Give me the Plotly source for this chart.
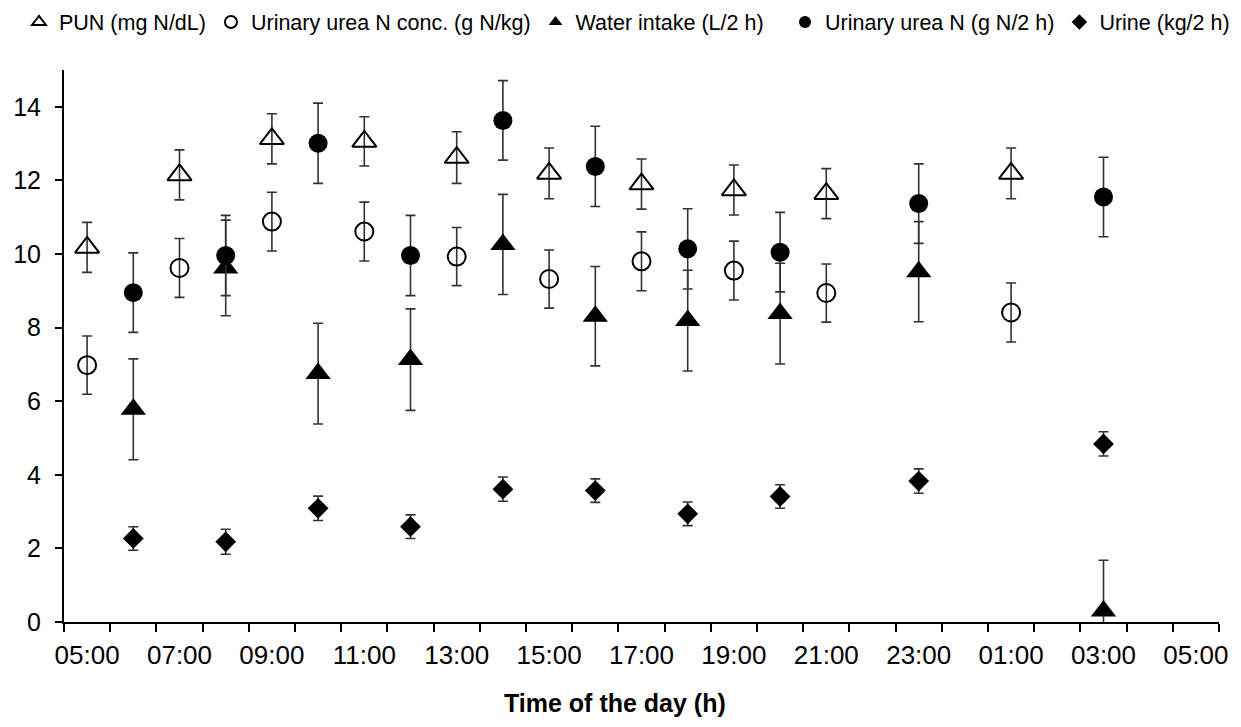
import plotly.graph_objects as go

# ---- data ----
time_labels = ["05:00", "07:00", "09:00", "11:00", "13:00", "15:00", "17:00",
               "19:00", "21:00", "23:00", "01:00", "03:00", "05:00"]
label_hours = [5, 7, 9, 11, 13, 15, 17, 19, 21, 23, 25, 27, 29]

hours_blood = [5, 7, 9, 11, 13, 15, 17, 19, 21, 25]
hours_urine = [6, 8, 10, 12, 14, 16, 18, 20, 23, 27]

pun = [10.18, 12.15, 13.13, 13.06, 12.62, 12.19, 11.90, 11.74, 11.64, 12.19]
pun_se = [0.68, 0.68, 0.68, 0.67, 0.70, 0.69, 0.68, 0.68, 0.68, 0.69]

urea_conc = [6.98, 9.62, 10.88, 10.61, 9.93, 9.32, 9.80, 9.55, 8.94, 8.41]
urea_conc_se = [0.79, 0.80, 0.80, 0.80, 0.79, 0.79, 0.80, 0.80, 0.79, 0.80]

water = [5.78, 9.62, 6.75, 7.13, 10.26, 8.31, 8.19, 8.38, 9.52, 0.30]
water_se = [1.37, 1.30, 1.37, 1.38, 1.36, 1.35, 1.37, 1.37, 1.36, 1.38]

urea_n = [8.95, 9.96, 13.01, 9.96, 13.63, 12.38, 10.14, 10.05, 11.37, 11.55]
urea_n_se = [1.08, 1.09, 1.09, 1.09, 1.08, 1.09, 1.09, 1.08, 1.08, 1.08]

urine = [2.27, 2.18, 3.09, 2.59, 3.61, 3.57, 2.94, 3.41, 3.83, 4.84]
urine_se = [0.32, 0.34, 0.33, 0.32, 0.33, 0.32, 0.32, 0.32, 0.33, 0.33]

FONT = "Liberation Sans, Arial, sans-serif"
ERR = dict(type="data", color="#333333", thickness=1.6, width=5)

fig = go.Figure()

def add(name, x, y, se, symbol, size, lw=0, legend="legend"):
    fig.add_trace(go.Scatter(
        x=x, y=y, mode="markers", name=name, legend=legend,
        marker=dict(symbol=symbol, size=size, color="black",
                    line=dict(color="black", width=lw)),
        error_y=dict(array=se, **ERR),
    ))

add("PUN (mg N/dL)", hours_blood, pun, pun_se, "triangle-up-open", 21, 2)
add("Urinary urea N conc. (g N/kg)", hours_blood, urea_conc, urea_conc_se, "circle-open", 18, 2)
add("Water intake (L/2 h)", hours_urine, water, water_se, "triangle-up", 22)
add("Urinary urea N (g N/2 h)", hours_urine, urea_n, urea_n_se, "circle", 19, legend="legend2")
add("Urine (kg/2 h)", hours_urine, urine, urine_se, "diamond", 16, legend="legend2")

x_lo, x_hi = label_hours[0] - 0.5, label_hours[-1] + 0.5
boundaries = [x_lo + i for i in range(int(x_hi - x_lo) + 1)]

# page body has an 8 px margin: figure coordinates = page coordinates - 8
W, H = 1233, 719
ML, MR, MT, MB = 56, 22, 62, 105
PW, PH = W - ML - MR, H - MT - MB

def px_x(px):  # page x -> paper x
    return (px - 8 - ML) / PW

def px_y(py):  # page y -> paper y
    return 1 - (py - 8 - MT) / PH

LEG = dict(orientation="h", yanchor="middle", y=px_y(22), xanchor="left",
           font=dict(size=21.5, family=FONT), itemsizing="constant",
           tracegroupgap=0, itemwidth=30, borderwidth=0, bgcolor="rgba(0,0,0,0)")

fig.update_layout(
    width=W, height=H,
    margin=dict(l=ML, r=MR, t=MT, b=MB, autoexpand=False),
    paper_bgcolor="white", plot_bgcolor="white",
    font=dict(family=FONT, color="black", size=26),
    showlegend=True,
    legend=dict(LEG, x=px_x(19)),
    legend2=dict(LEG, x=px_x(785)),
    xaxis=dict(
        range=[x_lo, x_hi], tickmode="array", tickvals=label_hours, ticktext=time_labels,
        ticks="", showgrid=False, zeroline=False,
        showline=True, linecolor="black", linewidth=2,
        tickfont=dict(size=26), ticklabelstandoff=9,
        minor=dict(tickmode="array", tickvals=boundaries, ticks="outside",
                   ticklen=8, tickwidth=2, tickcolor="black", showgrid=False),
    ),
    yaxis=dict(
        range=[0, 15], tickmode="linear", tick0=0, dtick=2,
        ticks="outside", ticklen=7, tickwidth=2, tickcolor="black",
        showgrid=False, zeroline=False, showline=True, linecolor="black", linewidth=2,
        tickfont=dict(size=25), ticklabelstandoff=9,
    ),
    annotations=[dict(text="<b>Time of the day (h)</b>", xref="paper", yref="paper",
                      x=px_x(615), y=px_y(703),
                      xanchor="center", yanchor="middle", showarrow=False,
                      font=dict(size=25, family=FONT))],
)

fig.write_html("out.html")
